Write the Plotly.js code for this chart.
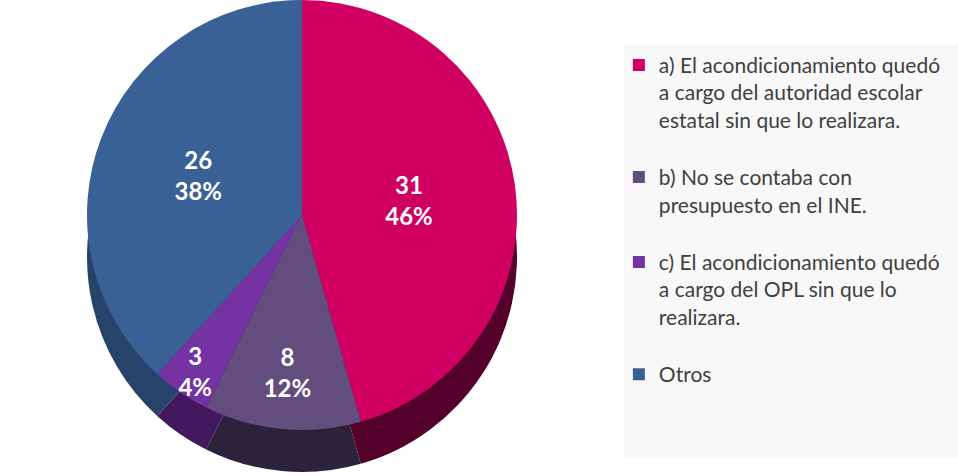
<!DOCTYPE html>
<html><head><meta charset="utf-8">
<script src="https://cdn.plot.ly/plotly-3.0.1.min.js"></script>
<style>html,body{margin:0;padding:0;background:#fff}#chart{width:958px;height:476px}</style>
</head><body><div id="chart"></div>
<script>
const labels = [
  "a) El acondicionamiento quedó<br>a cargo del autoridad escolar<br>estatal sin que lo realizara.",
  "b) No se contaba con<br>presupuesto en el INE.",
  "c) El acondicionamiento quedó<br>a cargo del OPL sin que lo<br>realizara.",
  "Otros"
];
const values = [31, 8, 3, 26];
const topColors = ["#D00062", "#634D7E", "#7432A2", "#3A6195"];
const sideColors = ["#55002B", "#2C223B", "#42195E", "#26446A"];

// blank line after each item to mimic the legend spacing
const legendLabels = labels.map((l, i) => i < labels.length - 1 ? l + "<br> " : l);

const W = 958, H = 476;
const cx = 302, cy = 215, r = 215, depth = 42;
const dom = (dy) => ({
  x: [(cx - r) / W, (cx + r) / W],
  y: [1 - (cy + r + dy) / H, 1 - (cy - r + dy) / H]
});

const sideTrace = {
  type: "pie", labels: legendLabels, values: values, sort: false,
  direction: "clockwise", rotation: 0, domain: dom(depth),
  marker: {colors: sideColors, line: {width: 0}},
  textinfo: "none", showlegend: false, hoverinfo: "skip"
};
const topTrace = {
  type: "pie", labels: legendLabels, values: values, sort: false,
  direction: "clockwise", rotation: 0, domain: dom(0),
  marker: {colors: topColors, line: {width: 0}},
  texttemplate: "<b>%{value}</b><br><b>%{percent:.0%}</b>",
  textposition: "inside", insidetextorientation: "horizontal",
  textfont: {family: "Lato, 'Open Sans', sans-serif", size: 24, color: "#FFFFFF"},
  hoverinfo: "label+value+percent"
};

const layout = {
  width: W, height: H,
  margin: {l: 0, r: 0, t: 0, b: 0},
  paper_bgcolor: "#FFFFFF",
  showlegend: true,
  uniformtext: {mode: "show", minsize: 24},
  legend: {
    x: 0.646, xanchor: "left", y: 0.906, yanchor: "top",
    valign: "top", bgcolor: "rgba(0,0,0,0)", traceorder: "normal",
    font: {family: "Lato, 'Open Sans', sans-serif", size: 21, color: "#404040"}
  },
  shapes: [{
    type: "rect", xref: "paper", yref: "paper", layer: "below",
    x0: 624 / W, x1: 1, y0: 1 - 457 / H, y1: 1 - 45 / H,
    fillcolor: "#F8F8F8", line: {width: 0}
  }]
};

Plotly.newPlot("chart", [sideTrace, topTrace], layout, {displayModeBar: false, staticPlot: true});
</script>
</body></html>
